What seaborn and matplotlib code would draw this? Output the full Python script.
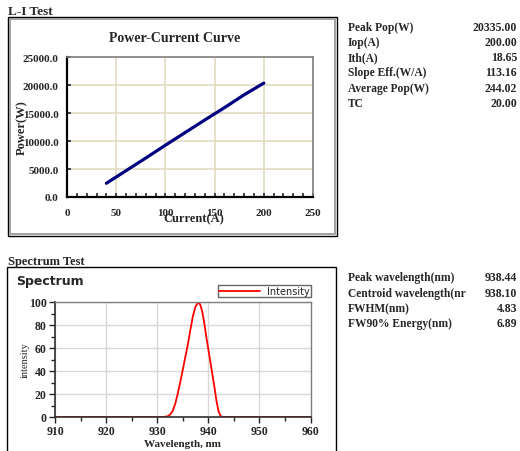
import pandas as pd
import seaborn as sns
import matplotlib.pyplot as plt
from matplotlib.patches import Rectangle
from matplotlib.ticker import MultipleLocator

# L-I curve data
current = [40, 60, 80, 100, 120, 140, 160, 180, 200]
power = [2450, 4700, 6950, 9250, 11500, 13750, 15950, 18250, 20335]

# spectrum data
wavelength = [910, 931.0, 932.0, 932.5, 933.0, 933.5, 934.0, 934.5, 935.0, 935.5,
              936.0, 936.5, 937.0, 937.5, 938.0, 938.4, 938.8, 939.2, 939.6, 940.0,
              940.4, 940.8, 941.2, 941.6, 942.0, 942.4, 942.8, 960]
intensity = [0, 0, 0.5, 2, 5, 11, 20, 30, 41, 52,
             63, 76, 88, 96, 99.5, 98, 92, 82, 70, 59,
             48, 37, 26, 14, 5, 1, 0, 0]

li_labels = ["Peak Pop(W)", "Iop(A)", "Ith(A)", "Slope Eff.(W/A)", "Average Pop(W)", "TC"]
li_values = ["20335.00", "200.00", "18.65", "113.16", "244.02", "20.00"]
sp_labels = ["Peak wavelength(nm)", "Centroid wavelength(nr", "FWHM(nm)", "FW90% Energy(nm)"]
sp_values = ["938.44", "938.10", "4.83", "6.89"]

W, H = 520, 452
SERIF = "Liberation Serif"

sns.set_style("white")
plt.rcParams['font.family'] = ['Liberation Serif', 'DejaVu Sans']

fig = plt.figure(figsize=(W / 100, H / 100), dpi=100)


def box(x1, y1, x2, y2):
    return [x1 / W, 1 - y2 / H, (x2 - x1) / W, (y2 - y1) / H]


def fx(x):
    return x / W


def fy(y):
    return 1 - y / H


def frame(x1, y1, x2, y2, color, lw):
    fig.patches.append(Rectangle((fx(x1), fy(y2)), (x2 - x1) / W, (y2 - y1) / H,
                                 transform=fig.transFigure, fill=False,
                                 edgecolor=color, linewidth=lw))


# ---- L-I Test section ----
fig.text(fx(8), fy(12), "L-I Test", fontsize=9.5, fontweight="bold", family=SERIF, va="center")
frame(8, 18, 337, 237, "black", 1.0)
frame(10, 20, 335, 235, "#a0a0a0", 1.4)
fig.text(fx(175), fy(39), "Power-Current Curve", fontsize=10, fontweight="bold",
         family=SERIF, ha="center", va="center")

ax1 = fig.add_axes(box(67, 58, 313, 198))
li_df = pd.DataFrame({"Current": current, "Power": power})
sns.lineplot(data=li_df, x="Current", y="Power", color="#000080", linewidth=2.3, ax=ax1)
ax1.set_xlim(0, 250)
ax1.set_ylim(0, 25000)
ax1.xaxis.set_major_locator(MultipleLocator(50))
ax1.xaxis.set_minor_locator(MultipleLocator(10))
ax1.yaxis.set_major_locator(MultipleLocator(5000))
ax1.grid(True, color="#e2dcc4", linewidth=1.2)
ax1.set_axisbelow(True)
for s in ["top", "right"]:
    ax1.spines[s].set_color("#808080")
    ax1.spines[s].set_linewidth(1.2)
for s in ["left", "bottom"]:
    ax1.spines[s].set_color("black")
    ax1.spines[s].set_linewidth(1.6)
ax1.tick_params(axis="x", which="major", direction="in", length=3, width=1.2, pad=8,
                bottom=True, labelsize=8)
ax1.tick_params(axis="x", which="minor", direction="in", length=3, width=1.2, bottom=True)
ax1.tick_params(axis="y", which="major", direction="in", length=3, width=1.2, pad=6,
                left=True, labelsize=8)
ax1.set_yticklabels([f"{v:.1f}" for v in ax1.get_yticks()])
for lab in ax1.get_xticklabels() + ax1.get_yticklabels():
    lab.set_fontweight("bold")
    lab.set_family(SERIF)
ax1.set_xlabel("Current(A)", fontsize=9, fontweight="bold", family=SERIF)
ax1.xaxis.set_label_coords((194 - 67) / 246, (198 - 213) / 140)
ax1.set_ylabel("Power(W)", fontsize=9, fontweight="bold", family=SERIF)
ax1.yaxis.label.set_va("center")
ax1.yaxis.set_label_coords((22 - 67) / 246, 0.5)

row_y = [28, 43, 58, 73, 89, 104]
for lab, val, y in zip(li_labels, li_values, row_y):
    fig.text(fx(348), fy(y), lab, fontsize=8.3, fontweight="bold", family=SERIF, va="center")
    fig.text(fx(517), fy(y), val, fontsize=8.5, fontweight="bold", family=SERIF,
             va="center", ha="right")

# ---- Spectrum Test section ----
fig.text(fx(8), fy(262), "Spectrum Test", fontsize=9, fontweight="bold", family=SERIF, va="center")
frame(7, 268, 336, 460, "black", 1.0)
fig.text(fx(16), fy(282), "Spectrum", fontsize=9, fontweight="bold", family="DejaVu Sans",
         va="center")

ax2 = fig.add_axes(box(55, 303, 310.5, 418))
sp_df = pd.DataFrame({"Wavelength": wavelength, "Intensity": intensity})
sns.lineplot(data=sp_df, x="Wavelength", y="Intensity", color="red", linewidth=1.3,
             label="Intensity", ax=ax2)
ax2.set_xlim(910, 960)
ax2.set_ylim(0, 100)
ax2.xaxis.set_major_locator(MultipleLocator(10))
ax2.xaxis.set_minor_locator(MultipleLocator(5))
ax2.yaxis.set_major_locator(MultipleLocator(20))
ax2.yaxis.set_minor_locator(MultipleLocator(10))
ax2.grid(True, which="major", color="#d8d8d8", linewidth=1.0)
ax2.set_axisbelow(True)
for s in ["top", "right"]:
    ax2.spines[s].set_color("#808080")
    ax2.spines[s].set_linewidth(1.0)
for s in ["left", "bottom"]:
    ax2.spines[s].set_color("#303030")
    ax2.spines[s].set_linewidth(1.2)
ax2.tick_params(axis="both", which="major", direction="out", length=4, width=1.0,
                bottom=True, left=True, labelsize=8.5, pad=2)
ax2.tick_params(axis="both", which="minor", direction="out", length=3, width=1.0,
                bottom=True, left=True)
for lab in ax2.get_xticklabels() + ax2.get_yticklabels():
    lab.set_fontweight("bold")
    lab.set_family(SERIF)
ax2.set_xlabel("Wavelength, nm", fontsize=8, fontweight="bold", family=SERIF, labelpad=1)
ax2.set_ylabel("intensity", fontsize=7.5, family=SERIF)
ax2.yaxis.label.set_va("center")
ax2.yaxis.set_label_coords((25 - 55) / 255.5, 0.5)
leg = ax2.legend(loc="upper right", bbox_to_anchor=(fx(311), fy(286)),
                 bbox_transform=fig.transFigure, frameon=True, fancybox=False,
                 prop={"family": "DejaVu Sans", "size": 7}, handlelength=4.2,
                 borderpad=0.1, handletextpad=0.8, borderaxespad=0)
leg.get_frame().set_edgecolor("#404040")
leg.get_frame().set_linewidth(1.0)

row_y2 = [278, 294, 309, 324]
for lab, val, y in zip(sp_labels, sp_values, row_y2):
    fig.text(fx(348), fy(y), lab, fontsize=8.3, fontweight="bold", family=SERIF, va="center")
    fig.text(fx(517), fy(y), val, fontsize=8.5, fontweight="bold", family=SERIF,
             va="center", ha="right")

fig.savefig("out.png", dpi=100)
